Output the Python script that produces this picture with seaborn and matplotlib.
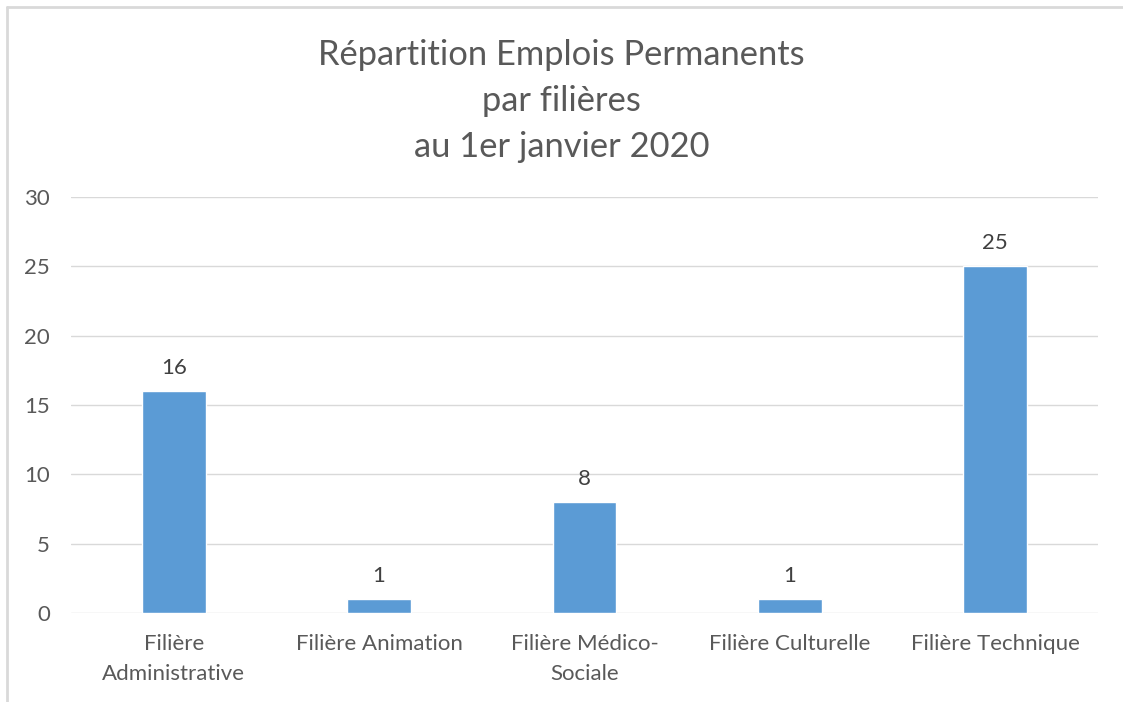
import matplotlib
matplotlib.use('Agg')
import matplotlib.pyplot as plt
import seaborn as sns
import pandas as pd
from matplotlib.lines import Line2D

categories = ['Filière\nAdministrative', 'Filière Animation', 'Filière Médico-\nSociale',
              'Filière Culturelle', 'Filière Technique']
values = [16, 1, 8, 1, 25]
yticks = [0, 5, 10, 15, 20, 25, 30]
title = 'Répartition Emplois Permanents\npar filières\nau 1er janvier 2020'

df = pd.DataFrame({'cat': categories, 'val': values})

sns.set_theme(style='white')
plt.rcParams['font.family'] = ['Lato', 'DejaVu Sans']

fig = plt.figure(figsize=(11.23, 7.02), dpi=100)
ax = fig.add_axes([71/1123, 89/702, 1027/1123, 416/702])
sns.barplot(data=df, x='cat', y='val', color='#5B9BD5', width=0.31, saturation=1, ax=ax, zorder=3)

ax.set_xlim(-0.5, 4.5)
ax.set_ylim(0, 30)
ax.set_yticks(yticks)
ax.grid(axis='y', color='#d9d9d9', linewidth=1, zorder=0)
for s in ax.spines.values():
    s.set_visible(False)
ax.set_xlabel('')
ax.set_ylabel('')
ax.tick_params(axis='both', length=0, labelsize=16, colors='#595959')
ax.tick_params(axis='y', pad=15)
ax.tick_params(axis='x', pad=15)
for lab in ax.get_xticklabels():
    lab.set_linespacing(1.65)

for i, v in enumerate(values):
    ax.annotate(str(v), (i, v), xytext=(0, 13), textcoords='offset pixels',
                ha='center', va='bottom', fontsize=16, color='#404040')

fig.text(0.5, 1 - 101/702, title, ha='center', va='center', fontsize=24.8,
         color='#595959', linespacing=1.55)

fig.add_artist(Line2D([7/1123, 1], [1 - 7/702, 1 - 7/702], color='#d9d9d9', lw=2, transform=fig.transFigure))
fig.add_artist(Line2D([7/1123, 7/1123], [0, 1 - 7/702], color='#d9d9d9', lw=2, transform=fig.transFigure))

fig.savefig('out.png', dpi=100, facecolor='white')
